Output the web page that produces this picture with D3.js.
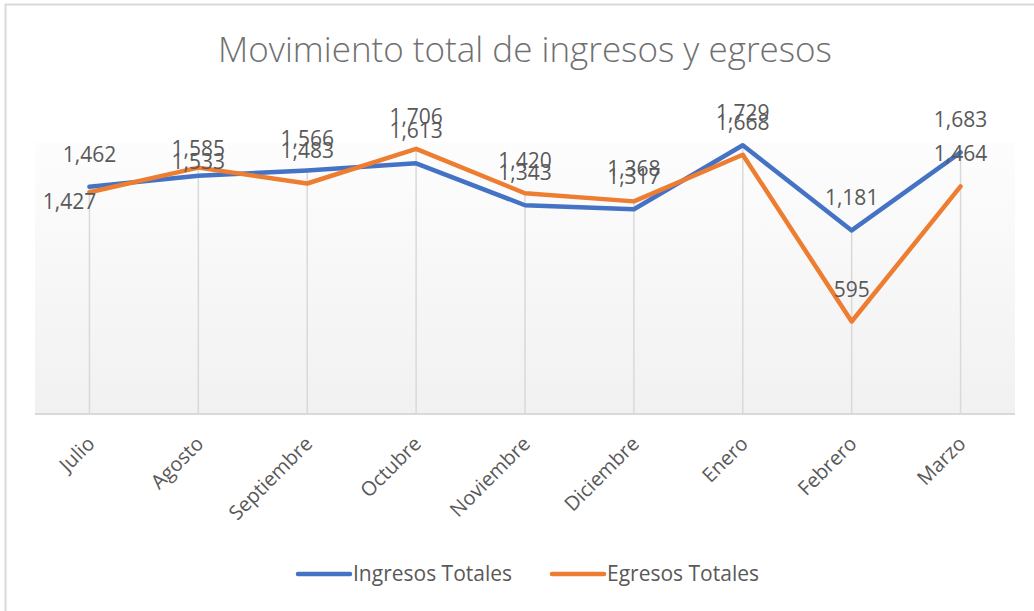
<!DOCTYPE html>
<html>
<head>
<meta charset="utf-8">
<script src="https://cdn.jsdelivr.net/npm/d3@7/dist/d3.min.js"></script>
<style>
  html, body { margin: 0; padding: 0; background: #ffffff; }
  svg { display: block; }
</style>
</head>
<body>
<svg id="chart" width="1034" height="611"></svg>
<script>
const title = "Movimiento total de ingresos y egresos";
const categories = ["Julio", "Agosto", "Septiembre", "Octubre", "Noviembre", "Diciembre", "Enero", "Febrero", "Marzo"];
const ingresosTotales = [1462, 1533, 1566, 1613, 1343, 1317, 1729, 1181, 1683];
const egresosTotales = [1427, 1585, 1483, 1706, 1420, 1368, 1668, 595, 1464];
const seriesNames = ["Ingresos Totales", "Egresos Totales"];

const W = 1034, H = 611;
const plot = { left: 35, right: 1015, top: 142, bottom: 414 };
const colors = ["#4472c4", "#ed7d31"];
const textColor = "#595959";
const fontLbl = "'Open Sans', 'Noto Sans', sans-serif";

const svg = d3.select("#chart");

const defs = svg.append("defs");
const grad = defs.append("linearGradient").attr("id", "pg").attr("x1", 0).attr("y1", 0).attr("x2", 0).attr("y2", 1);
grad.append("stop").attr("offset", "0%").attr("stop-color", "#fdfdfd");
grad.append("stop").attr("offset", "100%").attr("stop-color", "#f1f1f1");

svg.append("rect").attr("x", 5.5).attr("y", 4.5).attr("width", W + 20).attr("height", H + 20)
  .attr("fill", "#ffffff").attr("stroke", "#d9d9d9").attr("stroke-width", 2);

const x = d3.scalePoint().domain(categories).range([plot.left, plot.right]).padding(0.5);
const y = d3.scaleLinear().domain([0, 1750]).range([plot.bottom, plot.top]);

svg.append("rect").attr("x", plot.left).attr("y", plot.top)
  .attr("width", plot.right - plot.left).attr("height", plot.bottom - plot.top)
  .attr("fill", "url(#pg)");

svg.append("text").attr("x", 525).attr("y", 62).attr("text-anchor", "middle")
  .attr("font-family", fontLbl).attr("font-weight", 300).attr("font-size", 35)
  .attr("fill", "#707070").text(title);

const rows = categories.map((c, i) => ({ c, a: ingresosTotales[i], b: egresosTotales[i] }));

svg.append("g").selectAll("line").data(rows).join("line")
  .attr("x1", d => x(d.c)).attr("x2", d => x(d.c))
  .attr("y1", d => y(Math.max(d.a, d.b))).attr("y2", plot.bottom)
  .attr("stroke", "#d9d9d9").attr("stroke-width", 1.5);

const xAxis = svg.append("g").attr("transform", `translate(0,${plot.bottom})`)
  .call(d3.axisBottom(x).tickSize(0).tickPadding(0));
xAxis.select(".domain").attr("d", `M${plot.left},0H${plot.right}`).attr("stroke", "#d9d9d9").attr("stroke-width", 2);
xAxis.selectAll(".tick text")
  .attr("font-family", fontLbl).attr("font-size", 20).attr("fill", textColor)
  .attr("text-anchor", "end")
  .attr("transform", "translate(1,26) rotate(-45)")
  .attr("dy", "0.35em").attr("y", 0).attr("x", 0);

const series = [ingresosTotales, egresosTotales];
const line = d3.line().x((d, i) => x(categories[i])).y(d => y(d));
series.forEach((s, k) => {
  svg.append("path").datum(s).attr("d", line).attr("fill", "none")
    .attr("stroke", colors[k]).attr("stroke-width", 4.5)
    .attr("stroke-linejoin", "round").attr("stroke-linecap", "round");
});

const labelAdjust = { "1-0": { dx: -20, dy: 17 }, "0-1": { dx: 0, dy: -7 }, "1-1": { dx: 0, dy: -12 } };
const fmt = d3.format(",");
series.forEach((s, k) => {
  svg.append("g").selectAll("text").data(s).join("text")
    .attr("x", (d, i) => x(categories[i]) + ((labelAdjust[k + "-" + i] || {}).dx || 0))
    .attr("y", (d, i) => y(d) + ((labelAdjust[k + "-" + i] || { dy: -25 }).dy))
    .attr("text-anchor", "middle")
    .attr("font-family", fontLbl).attr("font-size", 21).attr("fill", textColor)
    .text(d => fmt(d));
});

const legend = svg.append("g");
const legX = [298, 552];
seriesNames.forEach((n, k) => {
  legend.append("line").attr("x1", legX[k]).attr("x2", legX[k] + 52).attr("y1", 574).attr("y2", 574)
    .attr("stroke", colors[k]).attr("stroke-width", 4.5).attr("stroke-linecap", "round");
  legend.append("text").attr("x", legX[k] + 55).attr("y", 581)
    .attr("font-family", fontLbl).attr("font-size", 21).attr("fill", textColor).text(n);
});
</script>
</body>
</html>
